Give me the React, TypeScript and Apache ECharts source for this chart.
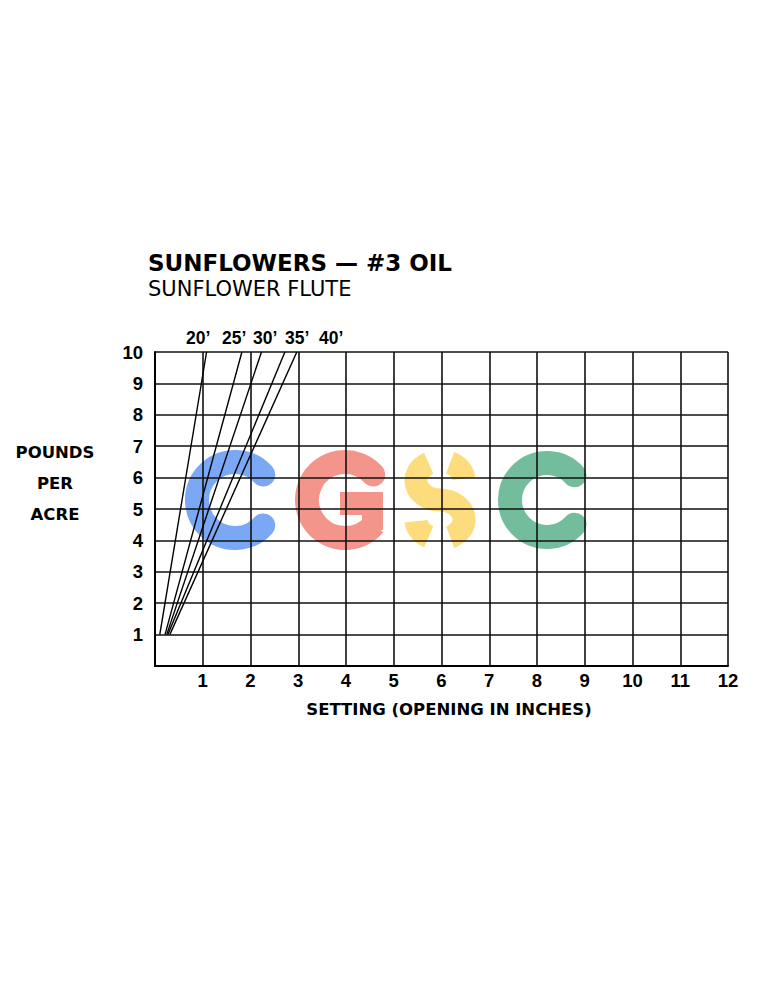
import React, { useEffect, useRef } from "react";
import * as echarts from "echarts";

// ---- data ----
const lineLabels = ["20’", "25’", "30’", "35’", "40’"];
const startSetting = [0.1, 0.21, 0.245, 0.27, 0.31];
const startPounds = [1, 1, 1, 1, 1];
const endSetting = [1.08, 1.82, 2.23, 2.72, 2.97];
const endPounds = [10, 10, 10, 10, 10];
const settingMin = 0;
const settingMax = 12;
const poundsMin = 0;
const poundsMax = 10;

const titleText = "SUNFLOWERS — #3 OIL";
const subtitleText = "SUNFLOWER FLUTE";
const yTitle = "POUNDS\nPER\nACRE";
const xTitle = "SETTING (OPENING IN INCHES)";

// label x positions (left edge) above the chart
const lineLabelX = [186, 222, 253, 285, 319];

const S_PATH =
  "M 23.9 -21.2 A 24 19.5 0 0 0 10.14 -37.17 " +
  "M -11.27 -36.72 A 24 19.5 0 0 0 0 0 A 24 19.5 0 0 1 10.14 37.17 " +
  "M -11.27 36.72 A 24 19.5 0 0 1 -23.9 21.2";

echarts.graphic.registerShape("sLetter", echarts.graphic.extendPath(S_PATH, {}));

const deg = (d: number) => (d * Math.PI) / 180;

export default function App() {
  const ref = useRef<HTMLDivElement>(null);

  useEffect(() => {
    document.body.style.margin = "0";
    if (!ref.current) return;
    const chart = echarts.init(ref.current, undefined, { renderer: "svg" });

    const tickLabel = {
      color: "#000",
      fontFamily: "Liberation Sans",
      fontWeight: "bold" as const,
      fontSize: 18.5,
    };
    const gridLine = { show: true, lineStyle: { color: "#111", width: 1.6 } };
    const axisLine = { show: true, onZero: false, lineStyle: { color: "#000", width: 2 } };

    const blue = "#7aa8f4";
    const red = "#f4958c";
    const yellow = "#fddc7e";
    const green = "#74bd9c";

    const watermark: any[] = [
      {
        type: "arc",
        z: -1,
        shape: { cx: 235, cy: 500, r: 38, startAngle: deg(42), endAngle: deg(318), clockwise: true },
        style: { stroke: blue, lineWidth: 24, fill: "none", lineCap: "round" },
      },
      {
        type: "arc",
        z: -1,
        shape: { cx: 345, cy: 500, r: 38, startAngle: deg(90), endAngle: deg(318), clockwise: true },
        style: { stroke: red, lineWidth: 24, fill: "none", lineCap: "round" },
      },
      {
        type: "arc",
        z: -1,
        shape: { cx: 345, cy: 500, r: 38, startAngle: deg(40), endAngle: deg(95), clockwise: true },
        style: { stroke: red, lineWidth: 24, fill: "none", lineCap: "butt" },
      },
      { type: "rect", z: -1, shape: { x: 340, y: 492, width: 43, height: 23 }, style: { fill: red } },
      { type: "rect", z: -1, shape: { x: 362, y: 492, width: 21, height: 38 }, style: { fill: red } },
      {
        type: "sLetter",
        z: -1,
        x: 440,
        y: 500,
        style: { stroke: yellow, lineWidth: 23, fill: "none", lineCap: "butt" },
      },
      {
        type: "arc",
        z: -1,
        shape: { cx: 547, cy: 500, r: 37, startAngle: deg(42), endAngle: deg(318), clockwise: true },
        style: { stroke: green, lineWidth: 24, fill: "none", lineCap: "round" },
      },
    ];

    const texts: any[] = [
      {
        type: "text",
        x: 148,
        y: 263,
        style: {
          text: titleText,
          fill: "#000",
          fontFamily: "DejaVu Sans",
          fontWeight: "bold",
          fontSize: 23,
          align: "left",
          verticalAlign: "middle",
        },
      },
      {
        type: "text",
        x: 148,
        y: 288.5,
        style: {
          text: subtitleText,
          fill: "#000",
          fontFamily: "DejaVu Sans",
          fontSize: 21,
          align: "left",
          verticalAlign: "middle",
        },
      },
      {
        type: "text",
        x: 55,
        y: 483.5,
        style: {
          text: yTitle,
          fill: "#000",
          fontFamily: "DejaVu Sans",
          fontWeight: "bold",
          fontSize: 16.5,
          lineHeight: 31,
          align: "center",
          verticalAlign: "middle",
        },
      },
      {
        type: "text",
        x: 449,
        y: 709,
        style: {
          text: xTitle,
          fill: "#000",
          fontFamily: "DejaVu Sans",
          fontWeight: "bold",
          fontSize: 16.5,
          align: "center",
          verticalAlign: "middle",
        },
      },
      ...lineLabels.map((t, i) => ({
        type: "text",
        x: lineLabelX[i],
        y: 337.5,
        style: {
          text: t,
          fill: "#000",
          fontFamily: "Liberation Sans",
          fontWeight: "bold",
          fontSize: 17.5,
          align: "left",
          verticalAlign: "middle",
        },
      })),
    ];

    chart.setOption({
      animation: false,
      backgroundColor: "#fff",
      grid: { left: 155, right: 44, top: 352, bottom: 334, containLabel: false },
      xAxis: {
        type: "value",
        min: settingMin,
        max: settingMax,
        interval: 1,
        axisLine,
        axisTick: { show: false },
        splitLine: gridLine,
        axisLabel: { ...tickLabel, showMinLabel: false, margin: 5 },
      },
      yAxis: {
        type: "value",
        min: poundsMin,
        max: poundsMax,
        interval: 1,
        axisLine,
        axisTick: { show: false },
        splitLine: gridLine,
        axisLabel: { ...tickLabel, showMinLabel: false, margin: 12 },
      },
      series: lineLabels.map((name, i) => ({
        type: "line",
        name,
        data: [
          [startSetting[i], startPounds[i]],
          [endSetting[i], endPounds[i]],
        ],
        symbol: "none",
        silent: true,
        lineStyle: { color: "#000", width: 1.4 },
      })),
      graphic: [...watermark, ...texts],
    });

    return () => chart.dispose();
  }, []);

  return <div ref={ref} style={{ width: 772, height: 1000 }} />;
}
